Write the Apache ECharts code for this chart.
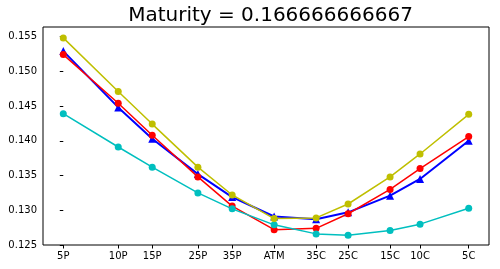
<!DOCTYPE html>
<html><head><meta charset="utf-8">
<script src="https://cdn.jsdelivr.net/npm/echarts@6/dist/echarts.min.js"></script>
<style>html,body{margin:0;padding:0;background:#fff}#c{width:500px;height:269px}</style>
</head><body><div id="c"></div>
<script>
const title = 'Maturity = 0.166666666667';
const categories = ['5P','10P','15P','25P','35P','ATM','35C','25C','15C','10C','5C'];
const xPositions = [0, 55, 89, 134.7, 169, 211, 253, 285, 327, 357, 405.7];
const blueVals   = [0.1529, 0.1448, 0.1403, 0.1352, 0.1319, 0.1291, 0.1287, 0.1297, 0.1321, 0.1345, 0.1400];
const redVals    = [0.1524, 0.1454, 0.1408, 0.1348, 0.1306, 0.1272, 0.1274, 0.1295, 0.1330, 0.1360, 0.1406];
const cyanVals   = [0.1439, 0.1391, 0.1362, 0.1325, 0.1302, 0.1279, 0.1266, 0.1264, 0.1271, 0.1280, 0.1303];
const yellowVals = [0.1548, 0.1471, 0.1424, 0.1362, 0.1322, 0.1288, 0.1289, 0.1309, 0.1348, 0.1381, 0.1438];
const yTicks = [0.125, 0.130, 0.135, 0.140, 0.145, 0.150, 0.155];

const pts = v => v.map((y, i) => [xPositions[i], y]);
const font = 'DejaVu Sans';
function mk(name, vals, color, symbol, size, width) {
  return { name, type: 'line', data: pts(vals), symbol, symbolSize: size, showSymbol: true,
    lineStyle: { color, width }, itemStyle: { color, borderWidth: 0 }, animation: false, z: 2 };
}
const chart = echarts.init(document.getElementById('c'));
chart.setOption({
  animation: false,
  title: { text: title, left: 265.5, textAlign: 'center', top: 1,
    textStyle: { fontFamily: font, fontSize: 20, fontWeight: 'normal', color: '#000' } },
  grid: { left: 43, right: 11, top: 27, bottom: 24, show: true, borderColor: '#000', borderWidth: 1, backgroundColor: 'transparent' },
  xAxis: { type: 'value', min: -20.3, max: 426,
    axisLine: { show: false }, splitLine: { show: false },
    axisTick: { show: true, length: 3.5, customValues: xPositions, lineStyle: { color: '#000' } },
    axisLabel: { customValues: xPositions, fontFamily: font, fontSize: 10, color: '#000', margin: 6,
      formatter: v => { const i = xPositions.findIndex(p => Math.abs(p - v) < 1e-6); return i >= 0 ? categories[i] : ''; } } },
  yAxis: { type: 'value', min: 0.125, max: 0.15637,
    axisLine: { show: false }, splitLine: { show: false },
    axisTick: { show: true, length: 3.5, customValues: yTicks, lineStyle: { color: '#000' } },
    axisLabel: { customValues: yTicks, fontFamily: font, fontSize: 10, color: '#000', margin: 6,
      formatter: v => v.toFixed(3) } },
  series: [
    mk('blue', blueVals, '#0000ff', 'triangle', 8, 2),
    mk('red', redVals, '#ff0000', 'circle', 7, 1.5),
    mk('cyan', cyanVals, '#00bfbf', 'circle', 7, 1.5),
    mk('yellow', yellowVals, '#bfbf00', 'circle', 7, 1.5)
  ]
});
</script></body></html>
